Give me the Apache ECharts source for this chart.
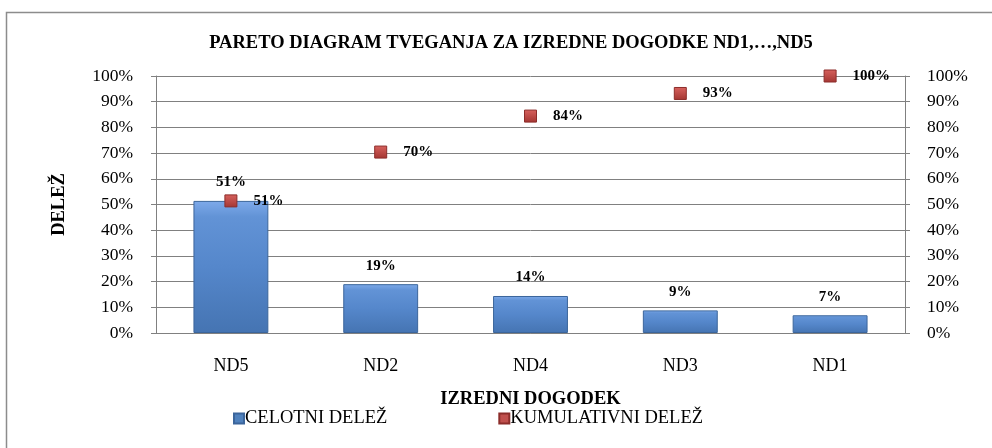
<!DOCTYPE html>
<html>
<head>
<meta charset="utf-8">
<script src="https://cdn.jsdelivr.net/npm/echarts@6/dist/echarts.min.js"></script>
<style>html,body{margin:0;padding:0;background:#fff}#c{width:992px;height:448px}</style>
</head>
<body>
<div id="c"></div>
<script>
var categories = ['ND5', 'ND2', 'ND4', 'ND3', 'ND1'];
var celotniDelez = [51.4, 19.0, 14.4, 8.8, 6.9];
var kumulativniDelez = [51.4, 70.4, 84.4, 93.2, 100];
var yTicks = { min: 0, max: 100, interval: 10 };

var FONT = '"Liberation Serif", "Times New Roman", serif';
var chart = echarts.init(document.getElementById('c'));
function pct(p) { return Math.round(p.value) + '%'; }

var yAxisBase = function (pos, margin) {
  return {
    type: 'value', position: pos,
    min: yTicks.min, max: yTicks.max, interval: yTicks.interval,
    axisLine: { show: true, lineStyle: { color: '#808080', width: 1 } },
    axisTick: { show: true, length: 5, lineStyle: { color: '#808080' } },
    axisLabel: { formatter: '{value}%', color: '#000', fontFamily: FONT, fontSize: 17.5, margin: margin },
    splitLine: { show: pos === 'left', lineStyle: { color: '#808080', width: 1 } }
  };
};
var yLeft = yAxisBase('left', 23);
yLeft.name = 'DELEŽ';
yLeft.nameLocation = 'middle';
yLeft.nameGap = 87;
yLeft.nameTextStyle = { fontFamily: FONT, fontSize: 18.5, fontWeight: 'bold', color: '#000' };
var yRight = yAxisBase('right', 22);

chart.setOption({
  animation: false,
  backgroundColor: '#fff',
  graphic: [{
    type: 'rect', shape: { x: 6.5, y: 12.5, width: 1010, height: 470 },
    style: { fill: 'none', stroke: '#8c8c8c', lineWidth: 1.5 }, silent: true, z: -1
  }],
  title: {
    text: 'PARETO DIAGRAM TVEGANJA ZA IZREDNE DOGODKE ND1,…,ND5',
    left: 511, textAlign: 'center', top: 34, padding: 0,
    textStyle: { fontFamily: FONT, fontSize: 18.5, fontWeight: 'bold', color: '#000' }
  },
  legend: {
    left: 233, top: 409, padding: 0, itemGap: 111, itemWidth: 10, itemHeight: 10,
    textStyle: { fontFamily: FONT, fontSize: 18.5, color: '#000', padding: [0, 0, 0, -4] },
    data: [
      { name: 'CELOTNI DELEŽ', icon: 'rect', itemStyle: { color: '#4f81bd', opacity: 1 } },
      { name: 'KUMULATIVNI DELEŽ', icon: 'rect', itemStyle: { color: '#c0504d', opacity: 1 } }
    ]
  },
  grid: { left: 156, right: 87, top: 76, bottom: 115, containLabel: false },
  xAxis: {
    type: 'category', data: categories,
    name: 'IZREDNI DOGODEK', nameLocation: 'middle', nameGap: 57,
    nameTextStyle: { fontFamily: FONT, fontSize: 18.5, fontWeight: 'bold', color: '#000' },
    axisLine: { show: true, lineStyle: { color: '#808080', width: 1 } },
    axisTick: { show: false },
    axisLabel: { color: '#000', fontFamily: FONT, fontSize: 18, margin: 24 }
  },
  yAxis: [yLeft, yRight],
  series: [{
    name: 'CELOTNI DELEŽ', type: 'bar', data: celotniDelez, barWidth: '50%',
    itemStyle: {
      color: { type: 'linear', x: 0, y: 0, x2: 0, y2: 1, colorStops: [
        { offset: 0, color: '#7eaaea' }, { offset: 0.12, color: '#6293d6' },
        { offset: 0.5, color: '#5587cb' }, { offset: 1, color: '#4574b2' }] },
      borderColor: '#3b659b', borderWidth: 1
    },
    label: { show: true, position: 'top', distance: 11, formatter: pct,
      fontFamily: FONT, fontSize: 15, fontWeight: 'bold', color: '#000' }
  }, {
    name: 'KUMULATIVNI DELEŽ', type: 'scatter', yAxisIndex: 0, data: kumulativniDelez,
    symbol: 'rect', symbolSize: 12, clip: false,
    itemStyle: {
      opacity: 1,
      color: { type: 'linear', x: 0, y: 0, x2: 0, y2: 1, colorStops: [
        { offset: 0, color: '#d8625e' }, { offset: 1, color: '#a33632' }] },
      borderColor: '#8c2d2a', borderWidth: 1
    },
    label: { show: true, position: 'right', distance: 16, formatter: pct,
      fontFamily: FONT, fontSize: 15, fontWeight: 'bold', color: '#000' },
    z: 5
  }]
});
</script>
</body>
</html>
